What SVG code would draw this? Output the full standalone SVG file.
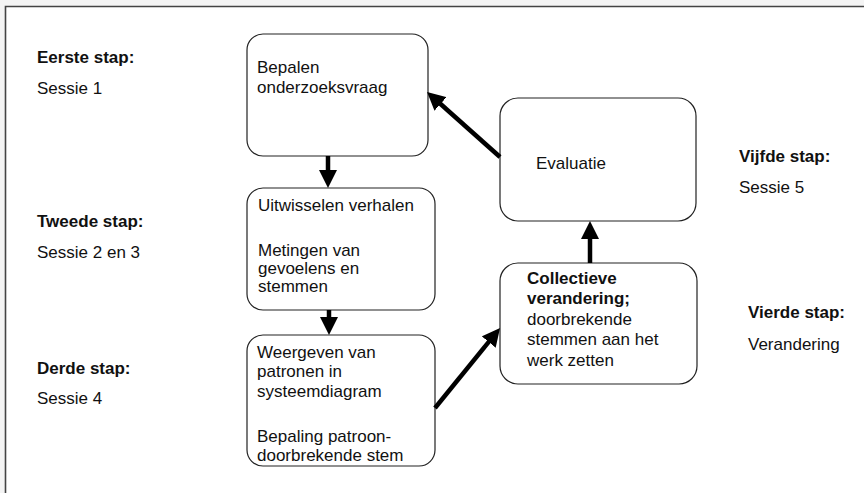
<svg xmlns="http://www.w3.org/2000/svg" width="864" height="493" viewBox="0 0 864 493">
<style>
text{font-family:"Liberation Sans",Arial,sans-serif;font-size:17px;fill:#111}
.b{font-weight:bold}
.box{fill:#fff;stroke:#222;stroke-width:1.2}
.arr{stroke:#000;stroke-width:4.5;fill:none;marker-end:url(#ah)}
</style>
<defs>
<marker id="ah" markerUnits="userSpaceOnUse" markerWidth="18" markerHeight="18" refX="4" refY="9" orient="auto" viewBox="0 0 18 18">
<path d="M0,0 L18,9 L0,18 Z" fill="#000"/>
</marker>
</defs>
<rect x="0" y="0" width="864" height="493" fill="#f4f4f4"/>
<rect x="6" y="7" width="858" height="486" fill="#fff"/>
<path d="M5.5,493 V6.5 H864" fill="none" stroke="#444" stroke-width="1.6"/>

<g id="labels">
<text x="37" y="63" class="b">Eerste stap:</text>
<text x="37" y="94">Sessie 1</text>
<text x="37" y="227" class="b">Tweede stap:</text>
<text x="37" y="258">Sessie 2 en 3</text>
<text x="37" y="374" class="b">Derde stap:</text>
<text x="37" y="404">Sessie 4</text>
<text x="739" y="162" class="b">Vijfde stap:</text>
<text x="739" y="193">Sessie 5</text>
<text x="748" y="318" class="b">Vierde stap:</text>
<text x="748" y="350">Verandering</text>
</g>

<g id="n1">
<rect class="box" x="247" y="34" width="181" height="122" rx="16"/>
<text x="257" y="73">Bepalen</text>
<text x="257" y="93">onderzoeksvraag</text>
</g>
<g id="n2">
<rect class="box" x="247" y="188" width="188" height="122" rx="16"/>
<text x="258" y="211">Uitwisselen verhalen</text>
<text x="258" y="256">Metingen van</text>
<text x="258" y="274">gevoelens en</text>
<text x="258" y="292">stemmen</text>
</g>
<g id="n3">
<rect class="box" x="247" y="335" width="188" height="131" rx="16"/>
<text x="257" y="358">Weergeven van</text>
<text x="257" y="377">patronen in</text>
<text x="257" y="397">systeemdiagram</text>
<text x="257" y="442">Bepaling patroon-</text>
<text x="257" y="461">doorbrekende stem</text>
</g>
<g id="n4">
<rect class="box" x="500" y="98" width="196" height="123" rx="18"/>
<text x="536" y="169">Evaluatie</text>
</g>
<g id="n5">
<rect class="box" x="500" y="263" width="197" height="121" rx="18"/>
<text x="527" y="284" class="b">Collectieve</text>
<text x="527" y="304" class="b">verandering;</text>
<text x="527" y="325">doorbrekende</text>
<text x="527" y="345">stemmen aan het</text>
<text x="527" y="366">werk zetten</text>
</g>

<g id="connectors">
<line class="arr" x1="328" y1="156" x2="328" y2="174"/>
<line class="arr" x1="329" y1="310" x2="329" y2="321"/>
<line class="arr" x1="435" y1="408" x2="491.2" y2="338.9"/>
<line class="arr" x1="590" y1="263" x2="590" y2="235"/>
<line class="arr" x1="500" y1="157" x2="437.5" y2="101.3"/>
</g>
</svg>
